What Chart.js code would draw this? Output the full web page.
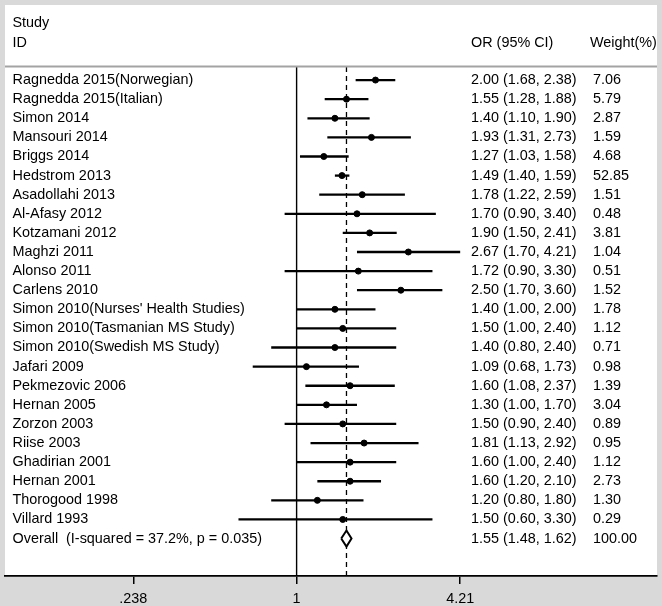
<!DOCTYPE html>
<html>
<head>
<meta charset="utf-8">
<script src="https://cdn.jsdelivr.net/npm/chart.js@4.4.0/dist/chart.umd.min.js"></script>
<style>
  body { margin: 0; background: #d9d9d9; }
  canvas { display: block; }
</style>
</head>
<body>
<canvas id="myChart" width="662" height="606"></canvas>
<script>
// study rows, top to bottom
const studies = [
  'Ragnedda 2015(Norwegian)', 'Ragnedda 2015(Italian)', 'Simon 2014', 'Mansouri 2014',
  'Briggs 2014', 'Hedstrom 2013', 'Asadollahi 2013', 'Al-Afasy 2012', 'Kotzamani 2012',
  'Maghzi 2011', 'Alonso 2011', 'Carlens 2010', "Simon 2010(Nurses' Health Studies)",
  'Simon 2010(Tasmanian MS Study)', 'Simon 2010(Swedish MS Study)', 'Jafari 2009',
  'Pekmezovic 2006', 'Hernan 2005', 'Zorzon 2003', 'Riise 2003', 'Ghadirian 2001',
  'Hernan 2001', 'Thorogood 1998', 'Villard 1993'
];
const orValues = [2.00, 1.55, 1.40, 1.93, 1.27, 1.49, 1.78, 1.70, 1.90, 2.67, 1.72, 2.50,
  1.40, 1.50, 1.40, 1.09, 1.60, 1.30, 1.50, 1.81, 1.60, 1.60, 1.20, 1.50];
const ciLow = [1.68, 1.28, 1.10, 1.31, 1.03, 1.40, 1.22, 0.90, 1.50, 1.70, 0.90, 1.70,
  1.00, 1.00, 0.80, 0.68, 1.08, 1.00, 0.90, 1.13, 1.00, 1.20, 0.80, 0.60];
const ciHigh = [2.38, 1.88, 1.90, 2.73, 1.58, 1.59, 2.59, 3.40, 2.41, 4.21, 3.30, 3.60,
  2.00, 2.40, 2.40, 1.73, 2.37, 1.70, 2.40, 2.92, 2.40, 2.10, 1.80, 3.30];
const weights = [7.06, 5.79, 2.87, 1.59, 4.68, 52.85, 1.51, 0.48, 3.81, 1.04, 0.51, 1.52,
  1.78, 1.12, 0.71, 0.98, 1.39, 3.04, 0.89, 0.95, 1.12, 2.73, 1.30, 0.29];

const overallLabel = 'Overall  (I-squared = 37.2%, p = 0.035)';
const overall = { or: 1.55, low: 1.48, high: 1.62, weight: 100.00 };

const tickValues = [0.238, 1, 4.21];
const tickLabels = ['.238', '1', '4.21'];

const FONT = '14.4px "Liberation Sans", Arial, sans-serif';
const overallRow = studies.length;
const topRow = -0.69;

function ciText(o, l, h) {
  return o.toFixed(2) + ' (' + l.toFixed(2) + ', ' + h.toFixed(2) + ')';
}

const datasets = [];

// overall diamond (first so it is drawn on top of the dashed line)
datasets.push({
  type: 'line',
  data: [
    {x: overall.low, y: overallRow}, {x: overall.or, y: overallRow - 0.42},
    {x: overall.high, y: overallRow}, {x: overall.or, y: overallRow + 0.42},
    {x: overall.low, y: overallRow}
  ],
  borderColor: '#000', borderWidth: 2, backgroundColor: '#fff',
  fill: 'shape', pointRadius: 0, tension: 0
});

// point estimates
datasets.push({
  type: 'scatter',
  data: orValues.map((v, i) => ({x: v, y: i})),
  backgroundColor: '#000', borderColor: '#000', pointRadius: 3, pointStyle: 'circle'
});

// confidence intervals
studies.forEach((s, i) => {
  datasets.push({
    type: 'line',
    data: [{x: ciLow[i], y: i}, {x: ciHigh[i], y: i}],
    borderColor: '#000', borderWidth: 2.3, pointRadius: 0
  });
});

// overall estimate (dashed) and null line
datasets.push({
  type: 'line',
  data: [{x: overall.or, y: topRow}, {x: overall.or, y: 30}],
  borderColor: '#000', borderWidth: 1.3, borderDash: [5, 4], pointRadius: 0
});
datasets.push({
  type: 'line',
  data: [{x: 1, y: topRow}, {x: 1, y: 30}],
  borderColor: '#000', borderWidth: 1.4, pointRadius: 0
});

const panel = {
  id: 'panel',
  beforeDraw(chart) {
    const {ctx, chartArea: a} = chart;
    ctx.save();
    ctx.fillStyle = '#fff';
    ctx.fillRect(a.left, a.top, a.right - a.left, a.bottom - a.top);
    ctx.restore();
  },
  afterDraw(chart) {
    const {ctx, chartArea: a, scales} = chart;
    const y = scales.y;
    ctx.save();
    // header separator
    ctx.strokeStyle = '#a3a3a3';
    ctx.lineWidth = 2;
    ctx.beginPath();
    ctx.moveTo(a.left, y.getPixelForValue(topRow) - 0.5);
    ctx.lineTo(a.right, y.getPixelForValue(topRow) - 0.5);
    ctx.stroke();

    ctx.fillStyle = '#000';
    ctx.font = FONT;
    ctx.textBaseline = 'middle';
    ctx.textAlign = 'left';
    ctx.fillText('Study', 12.5, 23);
    ctx.fillText('ID', 12.5, 43);
    ctx.fillText('OR (95% CI)', 471, 43);
    ctx.fillText('Weight(%)', 590, 43);

    studies.forEach((s, i) => {
      const py = y.getPixelForValue(i);
      ctx.fillText(s, 12.5, py);
      ctx.fillText(ciText(orValues[i], ciLow[i], ciHigh[i]), 471, py);
      ctx.fillText(weights[i].toFixed(2), 593, py);
    });
    const oy = y.getPixelForValue(overallRow);
    ctx.fillText(overallLabel, 12.5, oy);
    ctx.fillText(ciText(overall.or, overall.low, overall.high), 471, oy);
    ctx.fillText(overall.weight.toFixed(2), 593, oy);
    ctx.restore();
  }
};

new Chart(document.getElementById('myChart'), {
  type: 'scatter',
  data: { datasets },
  options: {
    responsive: false,
    animation: false,
    layout: { padding: { left: 4, right: 3, top: 3, bottom: 0 } },
    plugins: {
      legend: { display: false },
      tooltip: { enabled: false }
    },
    scales: {
      x: {
        type: 'logarithmic',
        bounds: 'data',
        min: 0.0771,
        max: 23.74,
        afterBuildTicks: (scale) => {
          scale.ticks = tickValues.map(v => ({value: v}));
        },
        afterFit: (scale) => { scale.height = 30; },
        ticks: {
          autoSkip: false,
          maxRotation: 0,
          padding: 6,
          color: '#000',
          font: { family: '"Liberation Sans", Arial, sans-serif', size: 14.4 },
          callback: (v, i) => tickLabels[i]
        },
        grid: {
          drawOnChartArea: false,
          drawTicks: true,
          tickLength: 8,
          color: '#000',
          lineWidth: 1.5
        },
        border: { display: true, color: '#000', width: 1.8 }
      },
      y: {
        type: 'linear',
        display: false,
        reverse: true,
        min: -3.93,
        max: 25.96
      }
    }
  },
  plugins: [panel]
});
</script>
</body>
</html>
